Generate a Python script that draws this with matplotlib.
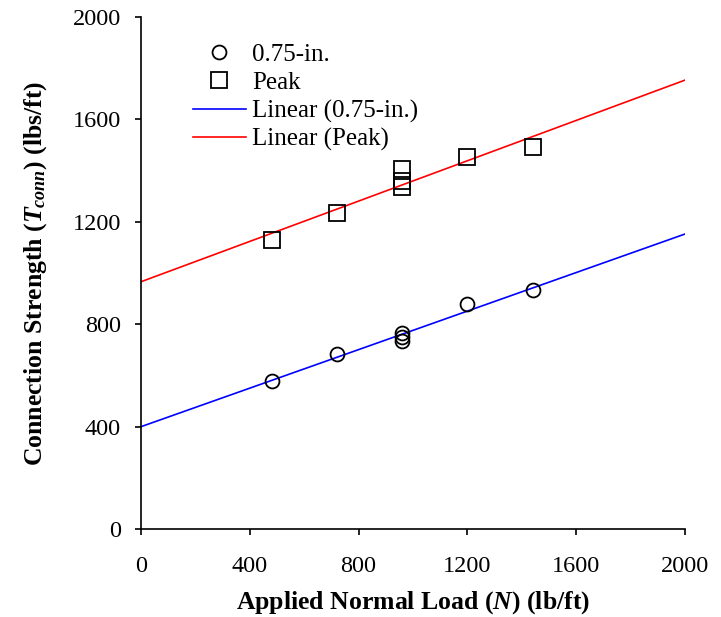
import numpy as np
import matplotlib
matplotlib.use("Agg")
import matplotlib.pyplot as plt

# Data
x_load = [480, 720, 960, 960, 960, 1200, 1440]
y_075 = [580, 684, 765, 750, 735, 879, 934]
y_peak = [1129, 1234, 1405, 1360, 1335, 1453, 1492]
x_ticks = [0, 400, 800, 1200, 1600, 2000]
y_ticks = [0, 400, 800, 1200, 1600, 2000]

plt.rcParams['font.family'] = ['Liberation Serif', 'DejaVu Serif']
plt.rcParams['mathtext.fontset'] = 'custom'
plt.rcParams['mathtext.rm'] = 'Liberation Serif'
plt.rcParams['mathtext.it'] = 'Liberation Serif:italic:bold'
plt.rcParams['mathtext.bf'] = 'Liberation Serif:bold'

fig = plt.figure(figsize=(7.21, 6.17), dpi=100)
ax = fig.add_axes([0.1956, 0.1426, 0.7544, 0.8298])

x = np.array(x_load, dtype=float)
c1 = np.polyfit(x, y_075, 1)
c2 = np.polyfit(x, y_peak, 1)
xl = np.array([0, 2000])

ax.plot(x, y_075, linestyle='none', marker='o', markersize=10, markerfacecolor='none',
        markeredgecolor='black', markeredgewidth=1.3, label='0.75-in.', zorder=3)
ax.plot(x, y_peak, linestyle='none', marker='s', markersize=11, markerfacecolor='none',
        markeredgecolor='black', markeredgewidth=1.3, label='Peak', zorder=3)
ax.plot(xl, np.polyval(c1, xl), color='#0000ff', lw=1.2, label='Linear (0.75-in.)')
ax.plot(xl, np.polyval(c2, xl), color='#ff0000', lw=1.2, label='Linear (Peak)')

ax.set_xlim(0, 2000)
ax.set_ylim(0, 2000)
ax.set_xticks(x_ticks)
ax.set_yticks(y_ticks)
ax.tick_params(direction='out', length=4.5, width=1.2, labelsize=17.5)
ax.tick_params(axis='x', pad=15)
ax.tick_params(axis='y', pad=10)
for s in ['top', 'right']:
    ax.spines[s].set_visible(False)
for s in ['left', 'bottom']:
    ax.spines[s].set_linewidth(1.2)

ax.set_xlabel(r'Applied Normal Load ($N$) (lb/ft)', fontsize=18.5, fontweight='bold', labelpad=9)
ax.set_ylabel(r'Connection Strength ($T_{conn}$) (lbs/ft)', fontsize=18.5, fontweight='bold', labelpad=17)

ax.legend(loc='upper left', bbox_to_anchor=(0.096, 0.948), frameon=False, fontsize=18,
          handlelength=2.1, handletextpad=0.25, labelspacing=0.22, borderaxespad=0,
          borderpad=0)

fig.savefig('out.png', dpi=100)
